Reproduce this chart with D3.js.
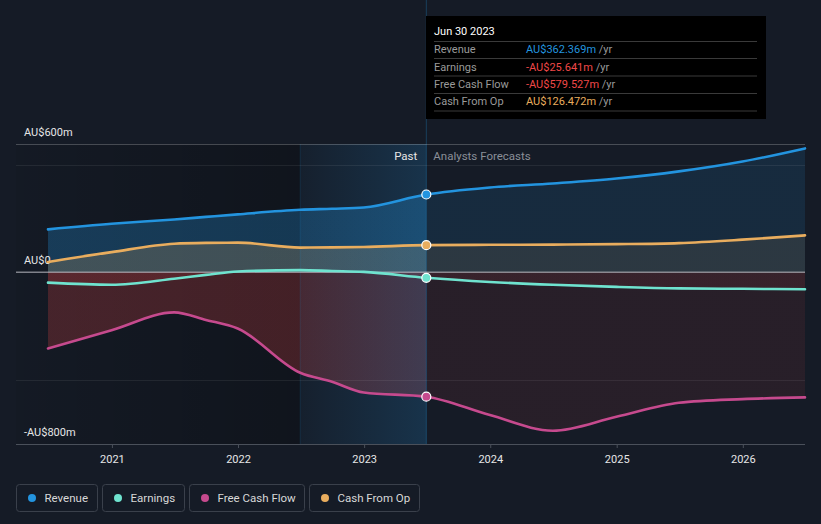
<!DOCTYPE html>
<html>
<head>
<meta charset="utf-8">
<script src="https://cdn.jsdelivr.net/npm/d3@7"></script>
<style>
  html, body { margin: 0; padding: 0; background: #151b26; }
  svg { display: block; font-family: Roboto, "Noto Sans", sans-serif; }
</style>
</head>
<body>
<svg id="chart" width="821" height="524"></svg>
<script>
// ---------- DATA ----------
const periods = ["2020-06-30","2020-12-31","2021-06-30","2021-09-30","2021-12-31","2022-06-30","2022-09-30","2022-12-31","2023-06-30","2023-12-31","2024-06-30","2024-12-31","2025-06-30","2025-12-31","2026-06-30"];
const revenue      = [200, 226, 246, 258, 270, 291, 296, 302, 362.369, 395, 414, 437, 470, 516, 577];
const earnings     = [-48, -58, -30, -12, 4, 10, 6, 2, -25.641, -45, -58, -68, -75, -77, -79];
const freeCashFlow = [-355, -270, -187, -222, -262, -468, -510, -560, -579.527, -665, -738, -673, -608, -591, -583];
const cashFromOp   = [48, 94, 133, 137, 138, 115, 116, 118, 126.472, 128, 129, 131, 136, 152, 172];
const yearTicks = [2021, 2022, 2023, 2024, 2025, 2026];
const yLabels = [{v: 600, t: "AU$600m"}, {v: 0, t: "AU$0"}, {v: -800, t: "-AU$800m"}];
const seriesNames = ["Revenue", "Earnings", "Free Cash Flow", "Cash From Op"];
const seriesColors = ["#2394df", "#6fe3cf", "#c64a8e", "#e9ad5e"];
const tooltipDate = "Jun 30 2023";
const tooltipValues = ["AU$362.369m", "-AU$25.641m", "-AU$579.527m", "AU$126.472m"];
const tooltipColors = ["#2394df", "#f04848", "#f04848", "#e9ad5e"];
const pastStart = "2022-06-30";
const todayDate = "2023-06-30";

// ---------- SETUP ----------
const parse = d3.timeParse("%Y-%m-%d");
const dates = periods.map(parse);
const svg = d3.select("#chart");
const pLeft = 16, pRight = 805, pTop = 144, pBottom = 444;

const x = d3.scaleTime().domain([dates[0], dates[dates.length - 1]]).range([48, 805]);
const y = d3.scaleLinear().domain([-800, 600]).range([444, 143.5]);
const xToday = x(parse(todayDate));
const xPast = x(parse(pastStart));

const defs = svg.append("defs");

// left dark overlay
const gDark = defs.append("linearGradient").attr("id", "gDark")
  .attr("gradientUnits", "userSpaceOnUse").attr("x1", pLeft).attr("x2", xPast).attr("y1", 0).attr("y2", 0);
gDark.append("stop").attr("offset", 0).attr("stop-color", "#000").attr("stop-opacity", 0.05);
gDark.append("stop").attr("offset", 1).attr("stop-color", "#000").attr("stop-opacity", 0.25);

svg.append("rect").attr("x", pLeft).attr("y", pTop).attr("width", xPast - pLeft).attr("height", pBottom - pTop)
  .attr("fill", "url(#gDark)");

// area gradients: past stronger, forecast weaker
function makeGrad(id, color, aPast, aFut) {
  const g = defs.append("linearGradient").attr("id", id)
    .attr("gradientUnits", "userSpaceOnUse").attr("x1", pLeft).attr("x2", pRight).attr("y1", 0).attr("y2", 0);
  const o = (xToday - pLeft) / (pRight - pLeft);
  g.append("stop").attr("offset", 0).attr("stop-color", color).attr("stop-opacity", aPast);
  g.append("stop").attr("offset", o).attr("stop-color", color).attr("stop-opacity", aPast);
  g.append("stop").attr("offset", o).attr("stop-color", color).attr("stop-opacity", aFut);
  g.append("stop").attr("offset", 1).attr("stop-color", color).attr("stop-opacity", aFut);
}
makeGrad("fRev", "#2394df", 0.28, 0.13);
makeGrad("fCfo", "#e9ad5e", 0.2, 0.1);
makeGrad("fEarn", "#e64545", 0.12, 0.08);
makeGrad("fFcf", "#e64545", 0.24, 0.09);

const curve = d3.curveMonotoneX;
function area(vals) {
  return d3.area().x((d, i) => x(dates[i])).y0(y(0)).y1(d => y(d)).curve(curve)(vals);
}
function line(vals) {
  return d3.line().x((d, i) => x(dates[i])).y(d => y(d)).curve(curve)(vals);
}

svg.append("path").attr("d", area(revenue)).attr("fill", "url(#fRev)");
svg.append("path").attr("d", area(cashFromOp)).attr("fill", "url(#fCfo)");
svg.append("path").attr("d", area(freeCashFlow)).attr("fill", "url(#fFcf)");
svg.append("path").attr("d", area(earnings)).attr("fill", "url(#fEarn)");

// past highlight band
const gBand = defs.append("linearGradient").attr("id", "gBand")
  .attr("gradientUnits", "userSpaceOnUse").attr("x1", xPast).attr("x2", xToday).attr("y1", 0).attr("y2", 0);
gBand.append("stop").attr("offset", 0).attr("stop-color", "#2394df").attr("stop-opacity", 0.04);
gBand.append("stop").attr("offset", 1).attr("stop-color", "#2394df").attr("stop-opacity", 0.2);
svg.append("rect").attr("x", xPast).attr("y", pTop).attr("width", xToday - xPast).attr("height", pBottom - pTop)
  .attr("fill", "url(#gBand)");
svg.append("line").attr("x1", xPast).attr("x2", xPast).attr("y1", pTop).attr("y2", pBottom)
  .attr("stroke", "#2394df").attr("stroke-opacity", 0.15).attr("stroke-width", 1);
svg.append("line").attr("x1", xToday).attr("x2", xToday).attr("y1", 0).attr("y2", pBottom)
  .attr("stroke", "#2394df").attr("stroke-opacity", 0.3).attr("stroke-width", 1);

// gridlines
[500, -500].forEach(v => {
  svg.append("line").attr("x1", pLeft).attr("x2", pRight).attr("y1", Math.round(y(v)) + 0.5).attr("y2", Math.round(y(v)) + 0.5)
    .attr("stroke", "#ffffff").attr("stroke-opacity", 0.07);
});
svg.append("line").attr("x1", pLeft).attr("x2", pRight).attr("y1", Math.round(y(600)) + 0.5).attr("y2", Math.round(y(600)) + 0.5)
  .attr("stroke", "#ffffff").attr("stroke-opacity", 0.22);

// x axis
const xAxis = d3.axisBottom(x)
  .tickValues(yearTicks.map(yr => new Date(yr, 0, 1)))
  .tickFormat(d3.timeFormat("%Y"))
  .tickSize(4).tickSizeOuter(0);
const gx = svg.append("g").attr("transform", `translate(0,${pBottom})`).call(xAxis);
gx.select(".domain").remove();
gx.selectAll(".tick line").attr("stroke", "#4a505a");
gx.selectAll(".tick text").attr("fill", "#e6e6e6").attr("font-size", 11).attr("dy", "1.05em")
  .attr("font-family", "Roboto, sans-serif");
svg.append("line").attr("x1", pLeft).attr("x2", pRight).attr("y1", pBottom + 0.5).attr("y2", pBottom + 0.5)
  .attr("stroke", "#4a505a");

// zero line
svg.append("line").attr("x1", pLeft).attr("x2", pRight).attr("y1", y(0)).attr("y2", y(0))
  .attr("stroke", "#c8c8d0").attr("stroke-opacity", 0.6).attr("stroke-width", 1.5);

// y labels
yLabels.forEach(l => {
  svg.append("text").attr("x", 24).attr("y", y(l.v) - 8).text(l.t)
    .attr("fill", "#e6e6e6").attr("font-size", 11);
});

// Past / Analysts Forecasts
svg.append("text").attr("x", xToday - 9).attr("y", 160).attr("text-anchor", "end")
  .attr("fill", "#e6e6e6").attr("font-size", 11.5).text("Past");
svg.append("text").attr("x", xToday + 7).attr("y", 160)
  .attr("fill", "#8a8f98").attr("font-size", 11.5).text("Analysts Forecasts");

// lines
const allSeries = [revenue, earnings, freeCashFlow, cashFromOp];
const drawOrder = [2, 1, 3, 0];
drawOrder.forEach(i => {
  svg.append("path").attr("d", line(allSeries[i])).attr("fill", "none")
    .attr("stroke", seriesColors[i]).attr("stroke-width", 2.6).attr("stroke-linecap", "round");
});

// dots at today
const todayIdx = periods.indexOf(todayDate);
allSeries.forEach((s, i) => {
  svg.append("circle").attr("cx", xToday).attr("cy", y(s[todayIdx])).attr("r", 4.5)
    .attr("fill", seriesColors[i]).attr("stroke", "#ffffff").attr("stroke-width", 1.2);
});

// tooltip
const tt = svg.append("g");
tt.append("rect").attr("x", 426).attr("y", 16).attr("width", 340).attr("height", 103).attr("fill", "#000000");
tt.append("text").attr("x", 434).attr("y", 35).attr("fill", "#ffffff").attr("font-size", 11).text(tooltipDate);
[41.5, 58.5, 76, 93.5, 111].forEach(yy => {
  tt.append("line").attr("x1", 434).attr("x2", 757).attr("y1", yy).attr("y2", yy)
    .attr("stroke", "#3a3a3a").attr("stroke-width", 1);
});
const rowY = [53, 71, 88, 105];
seriesNames.forEach((n, i) => {
  tt.append("text").attr("x", 434).attr("y", rowY[i]).attr("fill", "#9a9a9a").attr("font-size", 11).text(n);
  const t = tt.append("text").attr("x", 526).attr("y", rowY[i]).attr("font-size", 11);
  t.append("tspan").attr("fill", tooltipColors[i]).text(tooltipValues[i]);
  t.append("tspan").attr("fill", "#9a9a9a").text(" /yr");
});

// legend
const legX = [16.5, 102.5, 189.5, 309.5];
const legW = [81, 82, 115, 110];
seriesNames.forEach((n, i) => {
  const g = svg.append("g").attr("transform", `translate(${legX[i]},484.5)`);
  g.append("rect").attr("width", legW[i]).attr("height", 27).attr("rx", 3)
    .attr("fill", "none").attr("stroke", "#3a404b");
  g.append("circle").attr("cx", 15.5).attr("cy", 13.5).attr("r", 4).attr("fill", seriesColors[i]);
  g.append("text").attr("x", 28).attr("y", 17.5).attr("fill", "#d8d8d8").attr("font-size", 11.5).text(n);
});
</script>
</body>
</html>
